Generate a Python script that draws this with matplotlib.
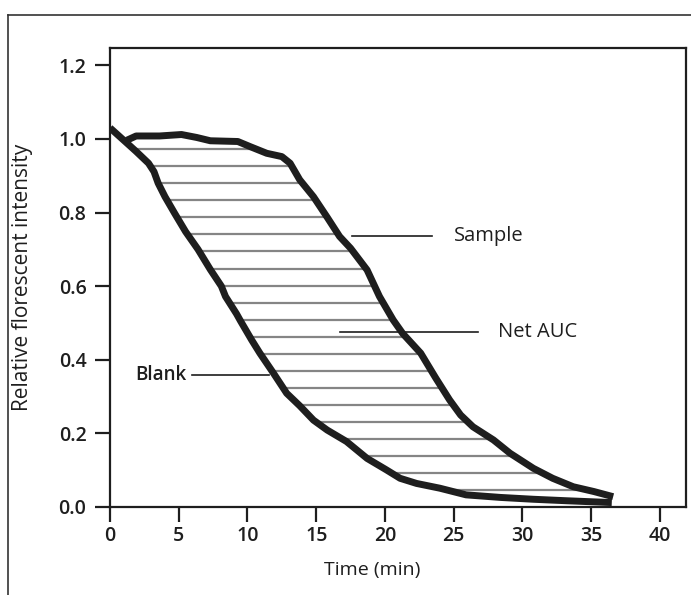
import numpy as np
import matplotlib.pyplot as plt
from matplotlib.lines import Line2D

plt.rcParams['font.family'] = ['Open Sans', 'DejaVu Sans']

# curves (time in min, relative intensity)
blank_t = [0, 1.1, 1.9, 2.8, 3.2, 3.5, 4.0, 4.7, 5.5, 6.4, 7.3, 8.1, 8.4, 9.2, 9.5,
           10.3, 10.9, 11.9, 12.85, 13.8, 14.8, 15.8, 17.2, 18.7, 20.1, 21.1, 22.3,
           24.0, 25.9, 28.4, 30.8, 33.2, 36.5]
blank_y = [1.03, 0.993, 0.966, 0.934, 0.911, 0.880, 0.843, 0.798, 0.748, 0.70, 0.645,
           0.60, 0.572, 0.525, 0.505, 0.454, 0.418, 0.363, 0.309, 0.275, 0.236, 0.209,
           0.178, 0.132, 0.101, 0.078, 0.064, 0.051, 0.033, 0.026, 0.021, 0.017, 0.012]

sample_t = [1.2, 1.9, 3.6, 5.2, 6.3, 7.3, 9.3, 10.2, 11.4, 12.5, 13.1, 13.8, 14.8,
            15.8, 16.7, 17.5, 18.7, 19.6, 20.6, 21.3, 22.6, 23.7, 24.7, 25.5, 26.4,
            27.9, 29.1, 30.8, 32.2, 33.7, 35.2, 36.6]
sample_y = [0.996, 1.008, 1.008, 1.012, 1.004, 0.995, 0.993, 0.979, 0.961, 0.952,
            0.934, 0.889, 0.843, 0.787, 0.735, 0.703, 0.644, 0.572, 0.508, 0.471,
            0.418, 0.35, 0.291, 0.25, 0.218, 0.182, 0.146, 0.105, 0.078, 0.055,
            0.042, 0.028]

x_ticks = [0, 5, 10, 15, 20, 25, 30, 35, 40]
y_ticks = [0.0, 0.2, 0.4, 0.6, 0.8, 1.0, 1.2]

X_LABEL = 'Time (min)'
Y_LABEL = 'Relative florescent intensity'
INK = '#1e1e1e'

fig = plt.figure(figsize=(6.91, 5.95), dpi=100)
ax = fig.add_axes([0.1592, 0.1479, 0.8336, 0.7714])

# outer frame (only top and left visible in the scan)
fig.add_artist(Line2D([8 / 691, 1.0], [1 - 15 / 595] * 2, transform=fig.transFigure,
                      color='#333333', lw=1.2))
fig.add_artist(Line2D([8 / 691] * 2, [0.0, 1 - 15 / 595], transform=fig.transFigure,
                      color='#333333', lw=1.2))

# hatch between the curves
bt = np.array(blank_t)
by = np.array(blank_y)
st = np.array(sample_t)
sy = np.array(sample_y)
mask = st >= 9.3
for lvl in np.linspace(0.972, 0.046, 21):
    x0 = np.interp(lvl, by[::-1], bt[::-1])
    x1 = np.interp(lvl, sy[mask][::-1], st[mask][::-1])
    ax.plot([x0, x1], [lvl, lvl], color='#858585', lw=1.6, zorder=2)

ax.plot(blank_t, blank_y, color=INK, lw=5, solid_joinstyle='round',
        solid_capstyle='butt', zorder=3)
ax.plot(sample_t, sample_y, color=INK, lw=5, solid_joinstyle='round',
        solid_capstyle='butt', zorder=3)

# labels with leader lines
ax.plot([17.6, 23.4], [0.737, 0.737], color=INK, lw=1.2)
ax.text(25.0, 0.737, 'Sample', fontsize=14.5, va='center', ha='left', color=INK)
ax.plot([16.7, 26.8], [0.476, 0.476], color=INK, lw=1.2)
ax.text(28.2, 0.476, 'Net AUC', fontsize=14.5, va='center', ha='left', color=INK)
ax.plot([6.0, 11.6], [0.359, 0.359], color=INK, lw=1.2)
ax.text(1.8, 0.359, 'Blank', fontsize=13.5, fontweight='semibold', va='center', ha='left',
        color=INK)

ax.set_xlim(0, 41.9)
ax.set_ylim(0, 1.247)
ax.set_xticks(x_ticks)
ax.set_yticks(y_ticks)
ax.set_yticklabels([f'{v:.1f}' for v in y_ticks])
ax.tick_params(direction='out', length=11, width=1.6, labelsize=14, colors=INK)
ax.tick_params(axis='x', pad=3)
ax.tick_params(axis='y', pad=6)
for lab in ax.get_xticklabels() + ax.get_yticklabels():
    lab.set_fontweight('semibold')
for sp in ax.spines.values():
    sp.set_linewidth(1.6)
    sp.set_color(INK)

ax.set_xlabel(X_LABEL, fontsize=14, color=INK)
ax.set_ylabel(Y_LABEL, fontsize=15, color=INK)
ax.xaxis.set_label_coords(0.455, -0.1176)
ax.yaxis.set_label_coords(-0.134, 0.5)

fig.savefig('out.png', dpi=100)
